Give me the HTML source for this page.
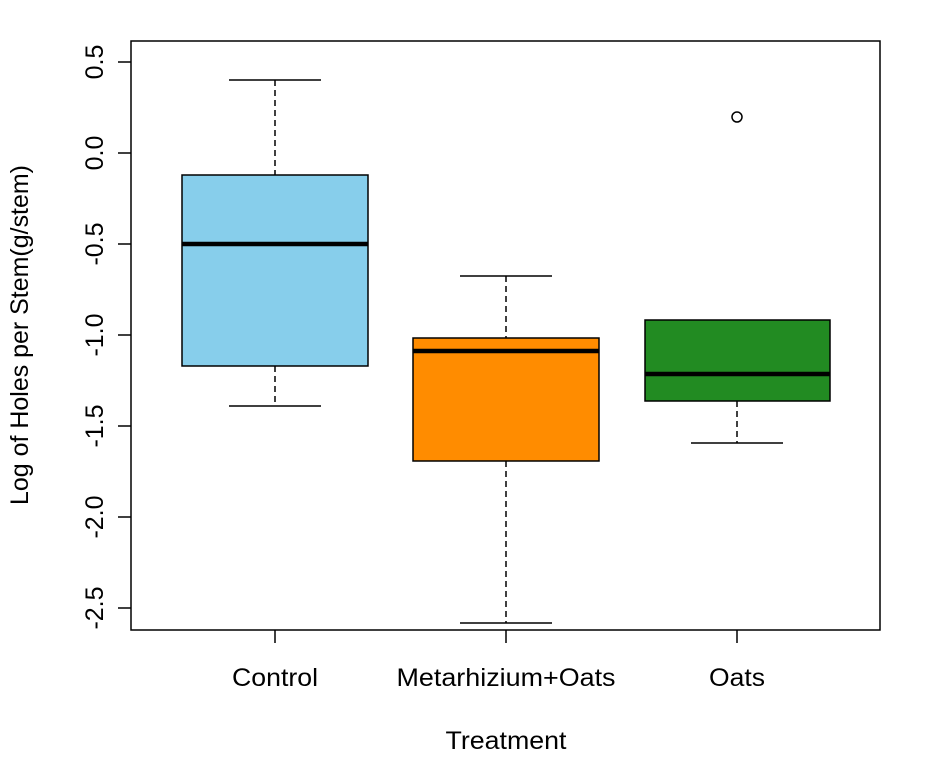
<!DOCTYPE html>
<html><head><style>
body{margin:0;background:#fff;}
svg text{font-family:"Liberation Sans",Arial,sans-serif;font-size:25px;fill:#000;}
</style></head><body>
<svg width="934" height="769" xmlns="http://www.w3.org/2000/svg">
<rect x="131" y="41" width="749" height="589" fill="none" stroke="#000" stroke-width="1.5"/>
<g stroke="#000" stroke-width="1.5">
<line x1="118" y1="62" x2="131" y2="62"/><line x1="118" y1="153" x2="131" y2="153"/>
<line x1="118" y1="244" x2="131" y2="244"/><line x1="118" y1="335" x2="131" y2="335"/>
<line x1="118" y1="426" x2="131" y2="426"/><line x1="118" y1="517" x2="131" y2="517"/>
<line x1="118" y1="608" x2="131" y2="608"/>
<line x1="275" y1="630" x2="275" y2="643"/><line x1="506" y1="630" x2="506" y2="643"/><line x1="737" y1="630" x2="737" y2="643"/>
</g>
<g text-anchor="middle">
<text transform="translate(103,62) rotate(-90)">0.5</text>
<text transform="translate(103,153) rotate(-90)">0.0</text>
<text transform="translate(103,244) rotate(-90)">-0.5</text>
<text transform="translate(103,335) rotate(-90)">-1.0</text>
<text transform="translate(103,426) rotate(-90)">-1.5</text>
<text transform="translate(103,517) rotate(-90)">-2.0</text>
<text transform="translate(103,608) rotate(-90)">-2.5</text>
<text x="275" y="686" textLength="86" lengthAdjust="spacingAndGlyphs">Control</text>
<text x="506" y="686" textLength="219" lengthAdjust="spacingAndGlyphs">Metarhizium+Oats</text>
<text x="737" y="686" textLength="56" lengthAdjust="spacingAndGlyphs">Oats</text>
<text x="506" y="749" textLength="121" lengthAdjust="spacingAndGlyphs">Treatment</text>
<text transform="translate(28,335) rotate(-90)" textLength="340" lengthAdjust="spacingAndGlyphs">Log of Holes per Stem(g/stem)</text>
</g>
<g stroke="#000" stroke-width="1.5">
<line x1="275" y1="80" x2="275" y2="175" stroke-dasharray="6,4"/>
<line x1="275" y1="366" x2="275" y2="406" stroke-dasharray="6,4"/>
<line x1="229" y1="80" x2="321" y2="80"/><line x1="229" y1="406" x2="321" y2="406"/>
<rect x="182" y="175" width="186" height="191" fill="#87CEEB"/>
<line x1="182" y1="244" x2="368" y2="244" stroke-width="4.5"/>
<line x1="506" y1="276" x2="506" y2="338" stroke-dasharray="6,4"/>
<line x1="506" y1="461" x2="506" y2="623" stroke-dasharray="6,4"/>
<line x1="460" y1="276" x2="552" y2="276"/><line x1="460" y1="623" x2="552" y2="623"/>
<rect x="413" y="338" width="186" height="123" fill="#FF8C00"/>
<line x1="413" y1="351" x2="599" y2="351" stroke-width="4.5"/>
<line x1="737" y1="401" x2="737" y2="443" stroke-dasharray="6,4"/>
<line x1="691" y1="443" x2="783" y2="443"/>
<rect x="645" y="320" width="185" height="81" fill="#228B22"/>
<line x1="645" y1="374" x2="830" y2="374" stroke-width="4.5"/>
<circle cx="737" cy="117" r="5" fill="none"/>
</g>
</svg>
</body></html>
